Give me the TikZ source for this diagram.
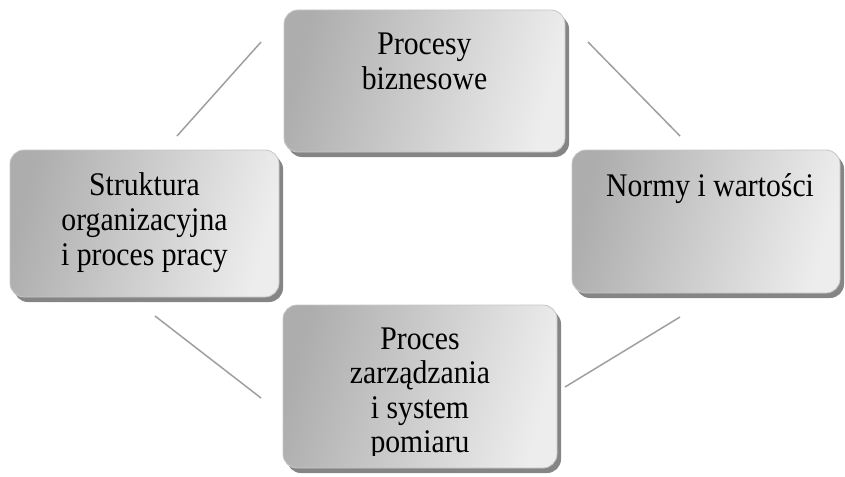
\documentclass[tikz,border=0pt]{standalone}
\usepackage{fontspec}
\setmainfont{Liberation Serif}[FakeStretch = 0.9]
\usetikzlibrary{shadows}
\usetikzlibrary{positioning}

\begin{document}
\begin{tikzpicture}[x = 1pt, y = -1pt]
	\tikzstyle{boxStyle}=[shape = rectangle, rounded corners = 14pt, inner sep = 0pt, draw = gray!45, line width = 0.8pt, left color = gray!64, right color = gray!14, shading angle = 75, drop shadow = {shadow xshift = 4pt, shadow yshift = -5pt, fill = black!48, opacity = 1}]
	\tikzstyle{textStyle}=[anchor = north, inner sep = 0pt, align = center, text = black, font = \fontsize{33}{35}\selectfont]
	\tikzstyle{linkStyle}=[draw = gray!75, line width = 1.5pt]
	\useasboundingbox (0,0) rectangle (845,476);
	\node[boxStyle, minimum width = 281pt, minimum height = 142pt] (procesy) at (424.5, 81) {};
	\node[boxStyle, minimum width = 269pt, minimum height = 147pt] (struktura) at (144.5, 223.5) {};
	\node[boxStyle, minimum width = 268pt, minimum height = 143pt] (normy) at (706, 221.5) {};
	\node[boxStyle, minimum width = 274pt, minimum height = 163pt] (zarzadzanie) at (420, 386.5) {};
	\node[textStyle, below = 23pt of procesy.north, anchor = north] (procesyText) {Procesy\\biznesowe};
	\node[textStyle, below = 22.5pt of struktura.north, anchor = north] (strukturaText) {Struktura\\organizacyjna\\i proces pracy};
	\node[textStyle, below = 24pt of normy.north, anchor = north, xshift = 4pt] (normyText) {Normy i wartości};
	\begin{scope}
		\clip (zarzadzanie.north west) rectangle ([yshift = 13pt]zarzadzanie.south east);
		\node[textStyle, below = 23pt of zarzadzanie.north, anchor = north, font = \fontsize{33}{34.3}\selectfont] (zarzadzanieText) {Proces\\zarządzania\\i system\\pomiaru};
	\end{scope}
	\coordinate (tl1) at (177, 136);
	\coordinate (tl2) at (261, 42);
	\coordinate (tr1) at (588, 42);
	\coordinate (tr2) at (680, 136);
	\coordinate (br1) at (680, 317);
	\coordinate (br2) at (565, 387);
	\coordinate (bl1) at (155, 316);
	\coordinate (bl2) at (261, 398);
	\draw[linkStyle] (tl1) -- (tl2);
	\draw[linkStyle] (tr1) -- (tr2);
	\draw[linkStyle] (br1) -- (br2);
	\draw[linkStyle] (bl1) -- (bl2);
\end{tikzpicture}
\end{document}
